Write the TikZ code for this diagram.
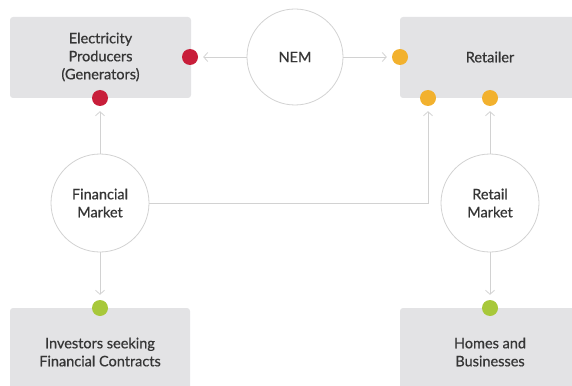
\documentclass[tikz,border=0pt]{standalone}
\usepackage{fontspec}
\setmainfont{Lato}[FakeBold=0.6]
\usetikzlibrary{arrows.meta}
\definecolor{boxgray}{HTML}{E3E3E5}
\definecolor{linegray}{HTML}{D2D2D2}
\definecolor{txt}{HTML}{363636}
\definecolor{dred}{HTML}{C81E3A}
\definecolor{dorange}{HTML}{F2B12E}
\definecolor{dgreen}{HTML}{A8C83A}
\tikzset{
  box/.style={fill=boxgray, rounded corners=3pt, draw=none},
  lbl/.style={text=txt, align=center, font=\fontsize{14.5}{18}\selectfont},
  mkt/.style={circle, draw=linegray, line width=0.8pt, fill=white, minimum size=98pt, inner sep=0pt, text=txt, align=center, font=\fontsize{14.5}{18}\selectfont},
  dot/.style={circle, minimum size=16pt, inner sep=0pt, draw=none},
  conn/.style={draw=linegray, line width=0.8pt},
  arr/.style={conn, -{Straight Barb[length=4pt,width=9pt,line width=0.8pt]}, shorten >=5pt}
}
\begin{document}
\begin{tikzpicture}[x=1pt,y=-1pt]
\useasboundingbox (0,0) rectangle (572,385);
% boxes
\fill[box] (10,17) rectangle (191,98);
\fill[box] (400,17) rectangle (590,98);
\fill[box] (10,308) rectangle (190,400);
\fill[box] (400,308) rectangle (590,400);
\node[lbl] (gen) at (100.5,57) {Electricity\\Producers\\(Generators)};
\node[lbl] (ret) at (490,57) {Retailer};
\node[lbl] (inv) at (100,352) {Investors seeking\\Financial Contracts};
\node[lbl] (home) at (490,352) {Homes and\\Businesses};
% circles
\node[mkt, minimum size=96pt] (nem) at (295,57) {NEM};
\node[mkt] (fin) at (100,203) {Financial\\Market};
\node[mkt] (rm) at (490,203) {Retail\\Market};
% dots
\node[dot, fill=dred] (r1) at (190,57) {};
\node[dot, fill=dred] (r2) at (100,98) {};
\node[dot, fill=dorange] (o1) at (400,57) {};
\node[dot, fill=dorange] (o2) at (428,98) {};
\node[dot, fill=dorange] (o3) at (490,98) {};
\node[dot, fill=dgreen] (g1) at (100,308) {};
\node[dot, fill=dgreen] (g2) at (490,308) {};
% connectors
\draw[arr] (nem.west) -- (r1.east);
\draw[arr] (nem.east) -- (o1.west);
\draw[arr] (fin.north) -- (r2.south);
\draw[arr] (fin.east) -| (o2.south);
\draw[arr] (rm.north) -- (o3.south);
\draw[arr] (fin.south) -- (g1.north);
\draw[arr] (rm.south) -- (g2.north);
\end{tikzpicture}
\end{document}
